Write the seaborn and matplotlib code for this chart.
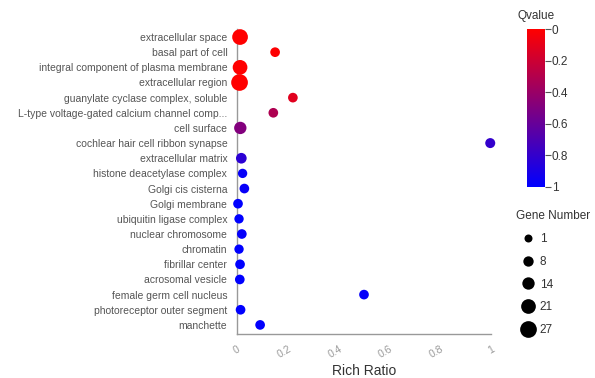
import matplotlib
matplotlib.use("Agg")
import matplotlib.pyplot as plt
import seaborn as sns
import numpy as np
import pandas as pd
from matplotlib.colors import LinearSegmentedColormap, Normalize
from matplotlib.cm import ScalarMappable
from matplotlib.lines import Line2D

terms = [
    "extracellular space", "basal part of cell", "integral component of plasma membrane",
    "extracellular region", "guanylate cyclase complex, soluble",
    "L-type voltage-gated calcium channel comp...", "cell surface",
    "cochlear hair cell ribbon synapse", "extracellular matrix",
    "histone deacetylase complex", "Golgi cis cisterna", "Golgi membrane",
    "ubiquitin ligase complex", "nuclear chromosome", "chromatin",
    "fibrillar center", "acrosomal vesicle", "female germ cell nucleus",
    "photoreceptor outer segment", "manchette",
]
rich_ratio = [0.012, 0.15, 0.012, 0.010, 0.22, 0.143, 0.013, 0.997, 0.017, 0.022,
              0.029, 0.004, 0.008, 0.019, 0.008, 0.012, 0.011, 0.50, 0.014, 0.091]
qvalue = [0.0, 0.01, 0.0, 0.0, 0.12, 0.32, 0.49, 0.80, 0.83, 0.97,
          0.97, 1.0, 1.0, 0.98, 1.0, 1.0, 1.0, 0.98, 1.0, 0.99]
gene_number = [24, 6, 21, 27, 6, 6, 14, 7, 9, 5, 6, 6, 5, 6, 5, 6, 6, 6, 6, 6]
legend_genes = [1, 8, 14, 21, 27]
cbar_ticks = [0, 0.2, 0.4, 0.6, 0.8, 1]
x_ticks = [0, 0.2, 0.4, 0.6, 0.8, 1]

sns.set_theme(style="white")
plt.rcParams["font.family"] = ["Liberation Sans", "DejaVu Sans"]

df = pd.DataFrame({"term": terms, "ratio": rich_ratio, "q": qvalue, "genes": gene_number})

cmap = LinearSegmentedColormap.from_list("qv", ["#FF0000", "#0000FF"])


def diam_px(n):
    return 8.0 + (n - 1) * 0.335


def area_pt(n):
    return (diam_px(n) * 0.72) ** 2


size_map = {n: area_pt(n) for n in sorted(set(gene_number))}

fig = plt.figure(figsize=(5.95, 3.78), dpi=100)
ax = fig.add_axes([237 / 595, 1 - 334 / 378, (491 - 237) / 595, (334 - 29) / 378])

sns.scatterplot(data=df, x="ratio", y="term", hue="q", hue_norm=(0, 1), palette=cmap,
                size="genes", sizes=size_map, legend=False, edgecolor="none",
                clip_on=False, ax=ax, zorder=3)

ax.set_xlim(0, 1)
ax.set_ylim(len(terms) - 1 + 0.6, -0.53)
ax.set_xticks(x_ticks)
ax.set_xticklabels([f"{t:g}" for t in x_ticks], rotation=30, ha="right",
                   rotation_mode="anchor", color="#999999", fontsize=7.5)
ax.tick_params(axis="x", direction="in", length=4, color="#999999", pad=7)
ax.tick_params(axis="y", direction="out", length=5, color="#999999", pad=2,
               labelsize=7.5, labelcolor="#555555")
ax.set_ylabel("")
ax.set_xlabel("Rich Ratio", fontsize=10, color="#333333", labelpad=3)
for s in ["top", "right"]:
    ax.spines[s].set_visible(False)
for s in ["left", "bottom"]:
    ax.spines[s].set_color("#999999")
    ax.spines[s].set_linewidth(1)
ax.grid(False)

# colorbar
cax = fig.add_axes([527 / 595, 1 - 187 / 378, 18 / 595, 158 / 378])
sm = ScalarMappable(norm=Normalize(0, 1), cmap=cmap)
cb = fig.colorbar(sm, cax=cax, ticks=cbar_ticks)
cb.outline.set_visible(False)
cax.invert_yaxis()
cax.set_yticklabels([f"{t:g}" for t in cbar_ticks])
cax.tick_params(length=4, width=0.8, color="#555555", labelsize=8.5, labelcolor="#333333", pad=1)
fig.text(536 / 595, 1 - 16 / 378, "Qvalue", ha="center", va="center", fontsize=8.5, color="#333333")

# size legend
handles = [Line2D([], [], marker="o", linestyle="", markersize=diam_px(n) * 0.72,
                  color="black", markeredgewidth=0) for n in legend_genes]
leg = ax.legend(handles, [str(n) for n in legend_genes], title="Gene Number",
                loc="upper left", bbox_to_anchor=(516 / 595, 1 - 210 / 378),
                bbox_transform=fig.transFigure, frameon=False, fontsize=8.5,
                title_fontsize=8.5, handletextpad=0.0, labelspacing=0.92,
                borderaxespad=0, borderpad=0)
leg._legend_box.align = "left"
for t in leg.get_texts():
    t.set_color("#333333")
leg.get_title().set_color("#333333")

fig.savefig("out.png", dpi=100)
